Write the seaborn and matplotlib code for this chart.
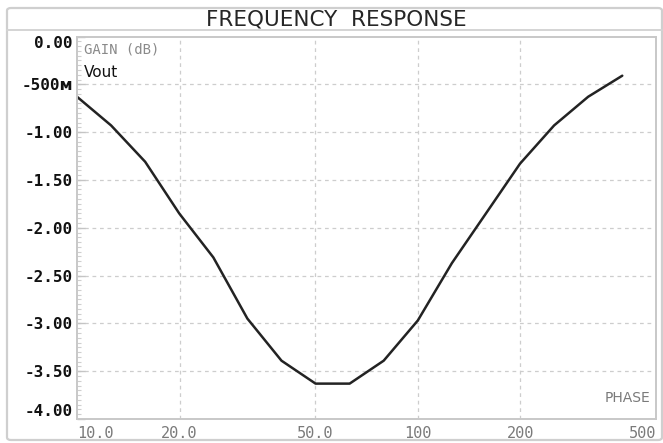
import numpy as np
import pandas as pd
import matplotlib
matplotlib.use("Agg")
import matplotlib.pyplot as plt
from matplotlib.patches import FancyBboxPatch
from matplotlib.lines import Line2D
from matplotlib.ticker import FixedLocator, MultipleLocator, NullFormatter, NullLocator
import seaborn as sns

# AC sweep of Vout, 10 points per decade
freq = [10.0, 12.59, 15.85, 19.95, 25.12, 31.62, 39.81, 50.12, 63.10,
        79.43, 100.0, 125.9, 158.5, 199.5, 251.2, 316.2, 398.1]
gain_db = [-0.63, -0.93, -1.31, -1.85, -2.31, -2.95, -3.39, -3.63, -3.63,
           -3.39, -2.97, -2.37, -1.85, -1.33, -0.93, -0.63, -0.41]

x_ticks = [10, 20, 50, 100, 200, 500]
x_tick_labels = ["10.0", "20.0", "50.0", "100", "200", "500"]
y_ticks = [0.0, -0.5, -1.0, -1.5, -2.0, -2.5, -3.0, -3.5, -4.0]
y_tick_labels = ["0.00", "-500ᴍ", "-1.00", "-1.50", "-2.00", "-2.50",
                 "-3.00", "-3.50", "-4.00"]

df = pd.DataFrame({"freq": freq, "gain": gain_db})

sns.set_theme(style="white")
plt.rcParams["font.family"] = ["DejaVu Sans Mono", "DejaVu Sans"]

W, H = 663, 443
fig = plt.figure(figsize=(W / 100, H / 100), dpi=100)
fig.patch.set_facecolor("white")

# outer panel frame and title strip
frame = FancyBboxPatch((7 / W, 3 / H), 655 / W, 432 / H,
                       boxstyle="round,pad=0,rounding_size=0.006",
                       transform=fig.transFigure, facecolor="none",
                       edgecolor="#cfcfcf", linewidth=1.6, zorder=-1)
fig.patches.append(frame)
fig.lines.append(Line2D([7 / W, 662 / W], [1 - 30 / H, 1 - 30 / H],
                        transform=fig.transFigure, color="#d4d4d4", lw=1.4))
fig.text(336 / W, 1 - 19.5 / H, "FREQUENCY  RESPONSE", ha="center", va="center",
         fontsize=15.5, color="#262626", family=["DejaVu Sans", "DejaVu Sans Mono"])

ax = fig.add_axes([77 / W, 1 - 419 / H, (656 - 77) / W, (419 - 36.5) / H])
ax.set_zorder(2)

sns.lineplot(data=df, x="freq", y="gain", ax=ax, color="#232323",
             linewidth=1.8, legend=False)

ax.set_xscale("log")
ax.set_xlim(10, 500)
ax.set_ylim(-4.0, 0.0)

ax.xaxis.set_major_locator(FixedLocator(x_ticks))
ax.xaxis.set_minor_locator(NullLocator())
ax.xaxis.set_minor_formatter(NullFormatter())
ax.set_xticklabels(x_tick_labels)
ax.yaxis.set_major_locator(FixedLocator(y_ticks))
ax.set_yticklabels(y_tick_labels)
ax.yaxis.set_minor_locator(MultipleLocator(0.05))

ax.tick_params(axis="x", which="major", bottom=True, length=0, pad=5,
               labelsize=11, labelcolor="#7a7a7a")
ax.tick_params(axis="y", which="major", left=True, direction="in", length=6,
               width=1, color="#c4c4c4", pad=3, labelsize=11.5,
               labelcolor="#111111")
ax.tick_params(axis="y", which="minor", left=True, direction="in", length=3,
               width=0.8, color="#cfcfcf")
for lab in ax.get_yticklabels():
    lab.set_fontweight("bold")

ylabs = ax.get_yticklabels()
ylabs[0].set_va("top")
ylabs[-1].set_va("bottom")
xlabs = ax.get_xticklabels()
xlabs[0].set_ha("left")
xlabs[-1].set_ha("right")

ax.set_xlabel("")
ax.set_ylabel("")

# dashed grid on inner divisions only
for xv in x_ticks[1:-1]:
    ax.axvline(xv, color="#cdcdcd", lw=0.9, ls=(0, (3, 3)), zorder=0)
for yv in y_ticks[1:-1]:
    ax.axhline(yv, color="#cdcdcd", lw=0.9, ls=(0, (3, 3)), zorder=0)

for sp in ax.spines.values():
    sp.set_color("#c8c8c8")
    sp.set_linewidth(1.4)

ax.text(0.012, 0.985, "GAIN (dB)", transform=ax.transAxes, ha="left", va="top",
        fontsize=10, color="#8a8a8a")
ax.text(0.012, 0.905, "Vout", transform=ax.transAxes, ha="left", va="center",
        fontsize=11, color="#111111", family=["DejaVu Sans", "DejaVu Sans Mono"])
ax.text(0.99, 0.055, "PHASE", transform=ax.transAxes, ha="right", va="center",
        fontsize=10, color="#7a7a7a", family=["DejaVu Sans", "DejaVu Sans Mono"])

fig.savefig("out.png", dpi=100, facecolor="white")
